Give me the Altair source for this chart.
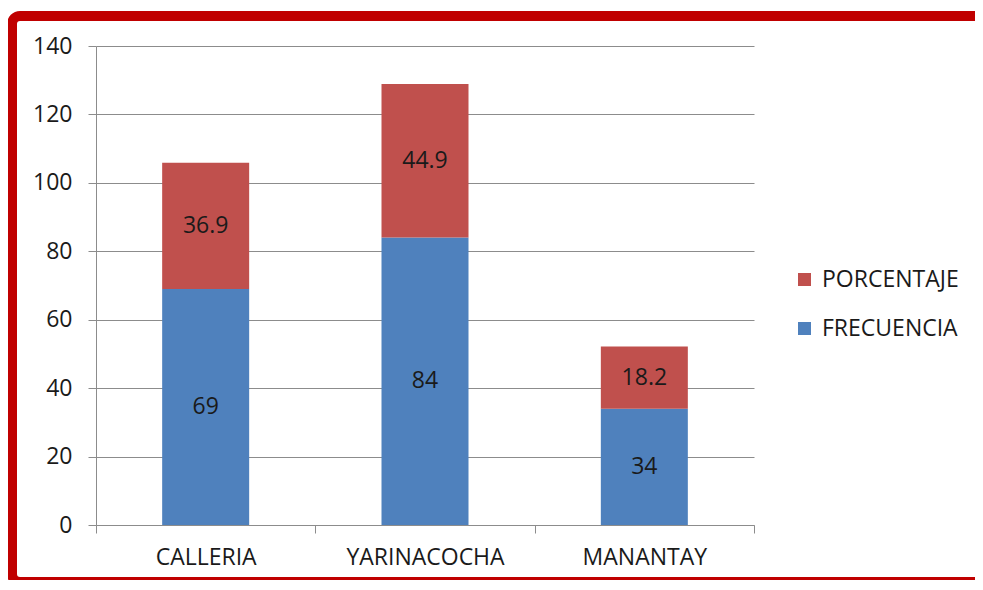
import altair as alt
import pandas as pd

municipios = ["CALLERIA", "YARINACOCHA", "MANANTAY"]
frecuencia = [69, 84, 34]
porcentaje = [36.9, 44.9, 18.2]
series = ["PORCENTAJE", "FRECUENCIA"]
colores = ["#C0504D", "#4F81BD"]
y_ticks = [0, 20, 40, 60, 80, 100, 120, 140]

rows = []
for m, f, p in zip(municipios, frecuencia, porcentaje):
    rows.append({"municipio": m, "serie": "FRECUENCIA", "valor": f, "orden": 1, "etiqueta": f"{f:g}"})
    rows.append({"municipio": m, "serie": "PORCENTAJE", "valor": p, "orden": 2, "etiqueta": f"{p:.1f}"})
df = pd.DataFrame(rows)

FONT = "Open Sans"
FS = 23

base = alt.Chart(df).transform_stack(
    stack="valor", groupby=["municipio"], as_=["v0", "v1"],
    sort=[alt.SortField("orden", order="ascending")]
).transform_calculate(mid="(datum.v0 + datum.v1) / 2")

x_enc = alt.X("municipio:N", sort=municipios, title=None,
              scale=alt.Scale(paddingInner=0, paddingOuter=0),
              axis=alt.Axis(labelAngle=0, tickBand="extent", tickSize=8,
                            labelPadding=13, labelFontSize=FS, labelFont=FONT,
                            labelColor="#1a1a1a", domainColor="#8c8c8c",
                            tickColor="#8c8c8c", grid=False))

bars = base.mark_bar(size=87).encode(
    x=x_enc,
    y=alt.Y("v0:Q", title=None,
            scale=alt.Scale(domain=[0, 140], nice=False),
            axis=alt.Axis(values=y_ticks, tickSize=8, labelPadding=16,
                          labelFontSize=FS, labelFont=FONT, labelColor="#1a1a1a",
                          domainColor="#8c8c8c", tickColor="#8c8c8c",
                          gridColor="#8c8c8c", grid=True)),
    y2="v1:Q",
    color=alt.Color("serie:N", scale=alt.Scale(domain=series, range=colores),
                    legend=alt.Legend(title=None, orient="none", legendX=697, legendY=222,
                                      symbolType="square", symbolSize=169,
                                      symbolStrokeWidth=0, labelFont=FONT,
                                      labelFontSize=FS, labelColor="#1a1a1a",
                                      labelOffset=6, rowPadding=25, padding=0)),
)

labels = base.mark_text(font=FONT, fontSize=FS, color="#1a1a1a").encode(
    x=alt.X("municipio:N", sort=municipios),
    y=alt.Y("mid:Q"),
    text="etiqueta:N",
)

frame = alt.Chart(alt.Data(values=[{}])).mark_rect(
    fill=None, stroke="#C00000", strokeWidth=10, cornerRadius=8
).encode(
    x=alt.value(-84), x2=alt.value(1000), y=alt.value(-30), y2=alt.value(536)
)

chart = alt.layer(frame, bars, labels).properties(
    width=658, height=479,
    autosize=alt.AutoSizeParams(type="none"),
    padding={"left": 88, "top": 38, "right": 221, "bottom": 55},
    background="white",
).configure_view(stroke=None)

chart.save("out.html", embed_options={"renderer": "svg", "actions": False})
